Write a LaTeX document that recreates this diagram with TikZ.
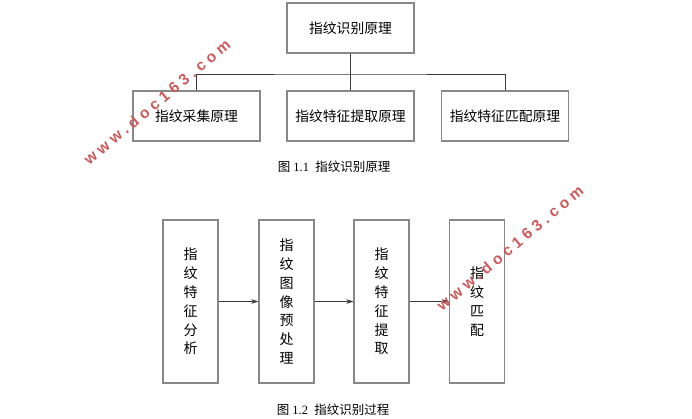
\documentclass[tikz,border=0pt]{standalone}
\usepackage{fontspec}
\setmainfont{Liberation Serif}
\newfontfamily\cjk{Noto Sans CJK SC}
\newfontfamily\markfont[LetterSpace=28]{Liberation Sans Bold}
\usetikzlibrary{arrows.meta, positioning, calc}
\definecolor{boxgray}{HTML}{888888}
\definecolor{linegray}{HTML}{3A3A3A}
\definecolor{markred}{HTML}{CC5A5A}

\begin{document}
\begin{tikzpicture}[
  x=1pt, y=-1pt,
  every node/.style={font=\cjk\fontsize{13.8}{16}\selectfont},
  hbox/.style={rectangle, draw=boxgray, line width=1.3pt, minimum width=127pt, minimum height=50pt, align=center, inner sep=0pt},
  vbox/.style={rectangle, draw=boxgray, line width=1.3pt, minimum width=55pt, minimum height=163pt, align=center, inner sep=0pt, font=\cjk\fontsize{14}{18.8}\selectfont},
  capt/.style={font=\fontsize{12.5}{15}\selectfont},
  wmark/.style={text=markred, font=\markfont\fontsize{15.5}{18}\selectfont, rotate=40},
]
\useasboundingbox (0,0) rectangle (692,419);

% Principle tree
\node[hbox] (root) at (350.5,28) {指纹识别原理};
\node[hbox] (p1) at (196.5,116) {指纹采集原理};
\node[hbox] (p2) at (350.5,116) {指纹特征提取原理};
\node[hbox] (p3) at (505,116) {指纹特征匹配原理};
\coordinate (bus) at (350.5,74);

\draw[linegray] (root) -- (bus);
\draw[linegray] (p1.north) |- (bus) -| (p3.north);
\draw[linegray] (bus) -- (p2);

\node[capt] (cap1) at (334,167) {{\cjk 图} 1.1 \ {\cjk 指纹识别原理}};

% Recognition process
\node[vbox] (s1) at (190.5,301.5) {指\\纹\\特\\征\\分\\析};
\node[vbox] (s2) at (286.5,301.5) {指\\纹\\图\\像\\预\\处\\理};
\node[vbox] (s3) at (381.5,301.5) {指\\纹\\特\\征\\提\\取};
\node[vbox] (s4) at (477,301.5) {指\\纹\\匹\\配};

\draw[-{Stealth[length=7pt,width=4.5pt]}, linegray] (s1) -- (s2);
\draw[-{Stealth[length=7pt,width=4.5pt]}, linegray] (s2) -- (s3);
\draw[-{Stealth[length=7pt,width=4.5pt]}, linegray] (s3) -- (s4);

\node[capt] (cap2) at (333,410) {{\cjk 图} 1.2 \ {\cjk 指纹识别过程}};

% Watermarks
\node[wmark] (mark1) at (157,102) {www.doc163.com};
\node[wmark] (mark2) at (510,248) {www.doc163.com};

\end{tikzpicture}
\end{document}
